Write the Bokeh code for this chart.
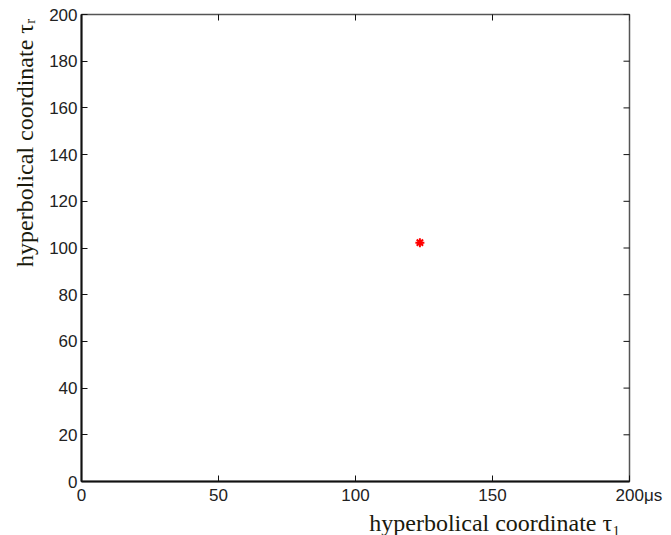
import math
from bokeh.plotting import figure
from bokeh.models import LinearAxis, Range1d, FixedTicker, Title
from bokeh.embed import file_html
from bokeh.resources import INLINE

# data
tau1 = [123.5]
taur = [102.3]
x_ticks = [0, 50, 100, 150, 200]
y_ticks = [0, 20, 40, 60, 80, 100, 120, 140, 160, 180, 200]

p = figure(width=671, height=535, output_backend="svg", toolbar_location=None,
           x_range=Range1d(0, 200), y_range=Range1d(0, 200),
           min_border_left=81, min_border_right=42, min_border_top=14, min_border_bottom=54,
           x_axis_location=None, y_axis_location=None)
p.grid.visible = False
p.outline_line_color = "#555555"
p.outline_line_width = 1.5
p.background_fill_color = "white"
p.border_fill_color = "white"

lab_col = "#1a1a0c"

def style(ax):
    ax.major_tick_in = 6
    ax.major_tick_out = 0
    ax.minor_tick_line_color = None
    ax.axis_line_color = "#111111"
    ax.axis_line_width = 2
    ax.major_tick_line_color = "#111111"
    ax.major_tick_line_width = 1
    ax.major_label_text_font = "Liberation Sans"
    ax.major_label_text_font_size = "17px"
    ax.major_label_text_color = "#222222"
    ax.major_label_standoff = 4

bx = LinearAxis(ticker=FixedTicker(ticks=x_ticks))
style(bx)
bx.major_label_overrides = {200: "\u00a0\u00a0\u00a0\u00a0200\u03bcs"}
p.add_layout(bx, "below")
ly = LinearAxis(ticker=FixedTicker(ticks=y_ticks))
style(ly)
p.add_layout(ly, "left")

# inner ticks on top and right edges (clipped to the frame, so only the inner half shows)
p.scatter(x_ticks, [200] * len(x_ticks), marker="dash", size=12, angle=math.pi / 2,
          line_color="#111111", line_width=1)
p.scatter([200] * len(y_ticks), y_ticks, marker="dash", size=12,
          line_color="#111111", line_width=1)

p.scatter(tau1, taur, marker="asterisk", size=9, line_color="red", line_width=2)

p.add_layout(Title(text="hyperbolical coordinate \u03c4\u2081", align="right", offset=9,
                   text_font="Liberation Serif", text_font_size="24px", text_color=lab_col,
                   text_font_style="normal", standoff=0), "below")
p.add_layout(Title(text="hyperbolical coordinate \u03c4\u1d63", align="right", offset=4,
                   text_font="Liberation Serif", text_font_size="24px", text_color=lab_col,
                   text_font_style="normal", standoff=18), "left")

with open("out.html", "w") as f:
    f.write(file_html(p, INLINE))
